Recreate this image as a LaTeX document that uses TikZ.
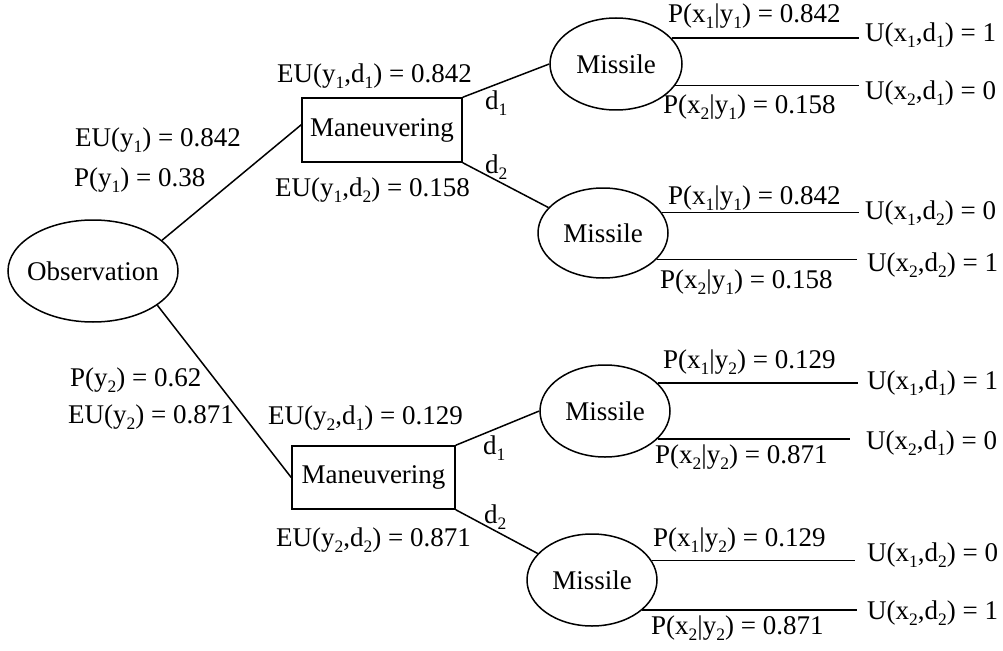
\documentclass[tikz,border=0pt]{standalone}
\usepackage{fontspec}
\setmainfont{Liberation Serif}
\usetikzlibrary{shapes.geometric,calc}
\newcommand{\sbx}[1]{\raisebox{-0.22em}{\fontsize{17.5}{18}\selectfont #1}}
\tikzset{
  every node/.style={font=\fontsize{27}{31}\selectfont},
  conn/.style={line width=1.5pt},
  lbl/.style={inner sep=0pt, anchor=west},
  ulbl/.style={inner xsep=6pt, inner ysep=0pt, anchor=west},
  chance/.style={draw, ellipse, line width=1.5pt, inner sep=0pt},
  decision/.style={draw, rectangle, line width=1.5pt, inner sep=0pt}
}
\begin{document}
\begin{tikzpicture}[x=1pt,y=-1pt]
\useasboundingbox (0,0) rectangle (1003,650);
% nodes
\node[chance, minimum width=170, minimum height=102] (obs) at (93,271) {\makebox[100pt]{Observation}};
\node[decision, minimum width=160, minimum height=64] (box1) at (382,130) {Maneuvering};
\node[decision, minimum width=163, minimum height=63] (box2) at (373.5,477.5) {Maneuvering};
\node[chance, minimum width=132, minimum height=92] (m1) at (616,64) {Missile};
\node[chance, minimum width=130, minimum height=90] (m2) at (603,233) {Missile};
\node[chance, minimum width=130, minimum height=92] (m3) at (605,411) {Missile};
\node[chance, minimum width=130, minimum height=92] (m4) at (592,580) {Missile};
% utility nodes
\node[ulbl] (u11) at (859,35) {U(x\sbx{1},d\sbx{1}) = 1};
\node[ulbl] (u12) at (859,93) {U(x\sbx{2},d\sbx{1}) = 0};
\node[ulbl] (u21) at (859,213) {U(x\sbx{1},d\sbx{2}) = 0};
\node[ulbl] (u22) at (861,265) {U(x\sbx{2},d\sbx{2}) = 1};
\node[ulbl] (u31) at (861,383) {U(x\sbx{1},d\sbx{1}) = 1};
\node[ulbl] (u32) at (860,443) {U(x\sbx{2},d\sbx{1}) = 0};
\node[ulbl] (u41) at (861,555) {U(x\sbx{1},d\sbx{2}) = 0};
\node[ulbl] (u42) at (861,613) {U(x\sbx{2},d\sbx{2}) = 1};
% connectors
\draw[conn] (obs.24) -- ($(box1.north west)!0.42!(box1.south west)$);
\draw[conn] (obs.-28) -- (box2.west);
\draw[conn] (box1.north east) -- (m1.west);
\draw[conn] (box1.south east) -- (m2.155);
\draw[conn] (box2.north east) -- (m3.west);
\draw[conn] (box2.south east) -- (m4.154);
\draw[conn] (m1.25.5) -- (m1.25.5 -| u11.west);
\draw[conn] (m1.-20.8) -- (m1.-20.8 -| u12.west);
\draw[conn] (m2.19) -- (m2.19 -| u21.west);
\draw[conn] (m2.-26.1) -- ([xshift=-4pt]m2.-26.1 -| u22.west);
\draw[conn] (m3.28.5) -- ([xshift=-3pt]m3.28.5 -| u31.west);
\draw[conn] (m3.-28.5) -- ([xshift=-10pt]m3.-28.5 -| u32.west);
\draw[conn] (m4.18.9) -- ([xshift=-6pt]m4.18.9 -| u41.west);
\draw[conn] (m4.-31.3) -- ([xshift=-4pt]m4.-31.3 -| u42.west);
% labels
\node[lbl] (l1) at (75,140) {EU(y\sbx{1}) = 0.842};
\node[lbl] (l2) at (74,180) {P(y\sbx{1}) = 0.38};
\node[lbl] (l3) at (277,76) {EU(y\sbx{1},d\sbx{1}) = 0.842};
\node[lbl] (l4) at (275,190) {EU(y\sbx{1},d\sbx{2}) = 0.158};
\node[lbl] (l5) at (485,103) {d\sbx{1}};
\node[lbl] (l6) at (485,167) {d\sbx{2}};
\node[lbl] (l7) at (70,380) {P(y\sbx{2}) = 0.62};
\node[lbl] (l8) at (68,417) {EU(y\sbx{2}) = 0.871};
\node[lbl] (l9) at (268,418) {EU(y\sbx{2},d\sbx{1}) = 0.129};
\node[lbl] (l10) at (276,540) {EU(y\sbx{2},d\sbx{2}) = 0.871};
\node[lbl] (l11) at (483,448) {d\sbx{1}};
\node[lbl] (l12) at (484,517) {d\sbx{2}};
\node[lbl] (p11) at (668,16) {P(x\sbx{1}|y\sbx{1}) = 0.842};
\node[lbl] (p12) at (663,107) {P(x\sbx{2}|y\sbx{1}) = 0.158};
\node[lbl] (p21) at (668,198) {P(x\sbx{1}|y\sbx{1}) = 0.842};
\node[lbl] (p22) at (660,282) {P(x\sbx{2}|y\sbx{1}) = 0.158};
\node[lbl] (p31) at (663,362) {P(x\sbx{1}|y\sbx{2}) = 0.129};
\node[lbl] (p32) at (655,457) {P(x\sbx{2}|y\sbx{2}) = 0.871};
\node[lbl] (p41) at (653,540) {P(x\sbx{1}|y\sbx{2}) = 0.129};
\node[lbl] (p42) at (651,628) {P(x\sbx{2}|y\sbx{2}) = 0.871};
\end{tikzpicture}
\end{document}
